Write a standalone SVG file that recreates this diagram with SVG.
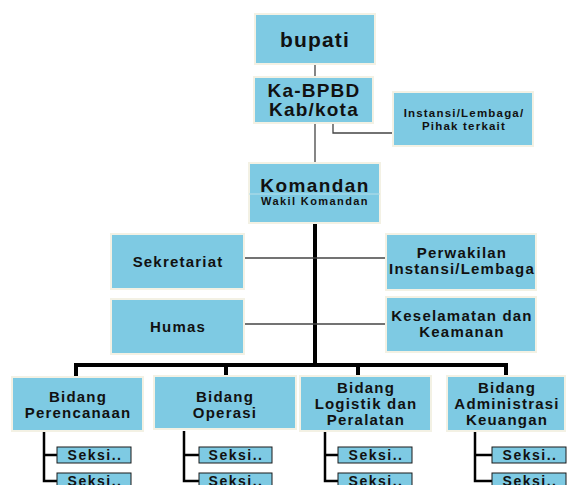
<svg xmlns="http://www.w3.org/2000/svg" width="567" height="485" viewBox="0 0 567 485">
<style>
.box{fill:#7ecae3;stroke:#f3f1e4;stroke-width:2}
.sk{fill:#7ecae3;stroke:#1a1a1a;stroke-width:1}
text{font-family:"Liberation Sans",Arial,sans-serif;font-weight:bold;fill:#111;text-anchor:middle}
.m{font-size:15px;letter-spacing:1.2px}
.s{font-size:14px;letter-spacing:1.5px}
.thin{stroke:#444;stroke-width:1.3;fill:none}
.thick{stroke:#000;stroke-width:4;fill:none}
.mid{stroke:#000;stroke-width:2.5;fill:none}
</style>
<rect width="567" height="485" fill="#fff"/>
<g id="connectors">
<line class="thin" x1="315" y1="63" x2="315" y2="78"/>
<line class="thin" x1="315" y1="123" x2="315" y2="163"/>
<polyline class="thin" points="333,123 333,133 393,133"/>
<line class="thick" x1="315" y1="223" x2="315" y2="367"/>
<line class="thin" x1="244" y1="258" x2="386" y2="258"/>
<line class="thin" x1="244" y1="324" x2="386" y2="324"/>
<polyline class="thick" points="76,377 76,365 506,365 506,377"/>
<line class="thick" x1="226" y1="365" x2="226" y2="377"/>
<line class="thick" x1="358" y1="365" x2="358" y2="377"/>
<polyline class="mid" points="44,431 44,481 57,481"/>
<line class="mid" x1="44" y1="455" x2="57" y2="455"/>
<polyline class="mid" points="184,431 184,481 199,481"/>
<line class="mid" x1="184" y1="455" x2="199" y2="455"/>
<polyline class="mid" points="325,431 325,481 338,481"/>
<line class="mid" x1="325" y1="455" x2="338" y2="455"/>
<polyline class="mid" points="475,431 475,481 492,481"/>
<line class="mid" x1="475" y1="455" x2="492" y2="455"/>
</g>
<g id="bupati"><rect class="box" x="255" y="14" width="120" height="50"/><text x="315" y="47" font-size="21" letter-spacing="1.2">bupati</text></g>
<g id="ka-bpbd"><rect class="box" x="254" y="77" width="119" height="46"/><text x="314" y="97" font-size="19" letter-spacing="1.2">Ka-BPBD</text><text x="314" y="116" font-size="19" letter-spacing="1.2">Kab/kota</text></g>
<g id="instansi"><rect class="box" x="393" y="92" width="140" height="54"/><text x="464" y="117" font-size="11.5" letter-spacing="1.2">Instansi/Lembaga/</text><text x="464" y="130" font-size="11.5" letter-spacing="1.2">Pihak terkait</text></g>
<g id="komandan"><rect class="box" x="249" y="163" width="131" height="60"/><line x1="249" y1="194" x2="380" y2="194" stroke="#b9dfe9" stroke-width="1"/><text x="315" y="192" font-size="19" letter-spacing="1.4">Komandan</text><text x="315" y="205" font-size="11" letter-spacing="1.4">Wakil Komandan</text></g>
<g id="sekretariat"><rect class="box" x="111" y="234" width="133" height="55"/><text class="m" x="178" y="267">Sekretariat</text></g>
<g id="humas"><rect class="box" x="111" y="299" width="133" height="55"/><text class="m" x="178" y="332">Humas</text></g>
<g id="perwakilan"><rect class="box" x="386" y="234" width="150" height="56"/><text class="m" x="462" y="258">Perwakilan</text><text class="m" x="462" y="274">Instansi/Lembaga</text></g>
<g id="keselamatan"><rect class="box" x="386" y="297" width="150" height="55"/><text class="m" x="462" y="321">Keselamatan dan</text><text class="m" x="462" y="337">Keamanan</text></g>
<g id="perencanaan"><rect class="box" x="12" y="377" width="131" height="54"/><text class="m" x="78" y="402">Bidang</text><text class="m" x="78" y="418">Perencanaan</text></g>
<g id="operasi"><rect class="box" x="154" y="376" width="142" height="53"/><text class="m" x="225" y="402">Bidang</text><text class="m" x="225" y="418">Operasi</text></g>
<g id="logistik"><rect class="box" x="300" y="376" width="131" height="55"/><text class="m" x="366" y="393">Bidang</text><text class="m" x="366" y="409">Logistik dan</text><text class="m" x="366" y="425">Peralatan</text></g>
<g id="administrasi"><rect class="box" x="447" y="376" width="118" height="55"/><text class="m" x="507" y="393">Bidang</text><text class="m" x="507" y="409">Administrasi</text><text class="m" x="507" y="425">Keuangan</text></g>
<g id="seksi1a"><rect class="sk" x="57" y="447" width="74" height="16"/><text class="s" x="95" y="460">Seksi..</text></g>
<g id="seksi1b"><rect class="sk" x="57" y="473" width="74" height="16"/><text class="s" x="95" y="486">Seksi..</text></g>
<g id="seksi2a"><rect class="sk" x="199" y="447" width="73" height="16"/><text class="s" x="236" y="460">Seksi..</text></g>
<g id="seksi2b"><rect class="sk" x="199" y="473" width="73" height="16"/><text class="s" x="236" y="486">Seksi..</text></g>
<g id="seksi3a"><rect class="sk" x="338" y="447" width="74" height="16"/><text class="s" x="376" y="460">Seksi..</text></g>
<g id="seksi3b"><rect class="sk" x="338" y="473" width="74" height="16"/><text class="s" x="376" y="486">Seksi..</text></g>
<g id="seksi4a"><rect class="sk" x="492" y="447" width="74" height="16"/><text class="s" x="530" y="460">Seksi..</text></g>
<g id="seksi4b"><rect class="sk" x="492" y="473" width="74" height="16"/><text class="s" x="530" y="486">Seksi..</text></g>
</svg>
